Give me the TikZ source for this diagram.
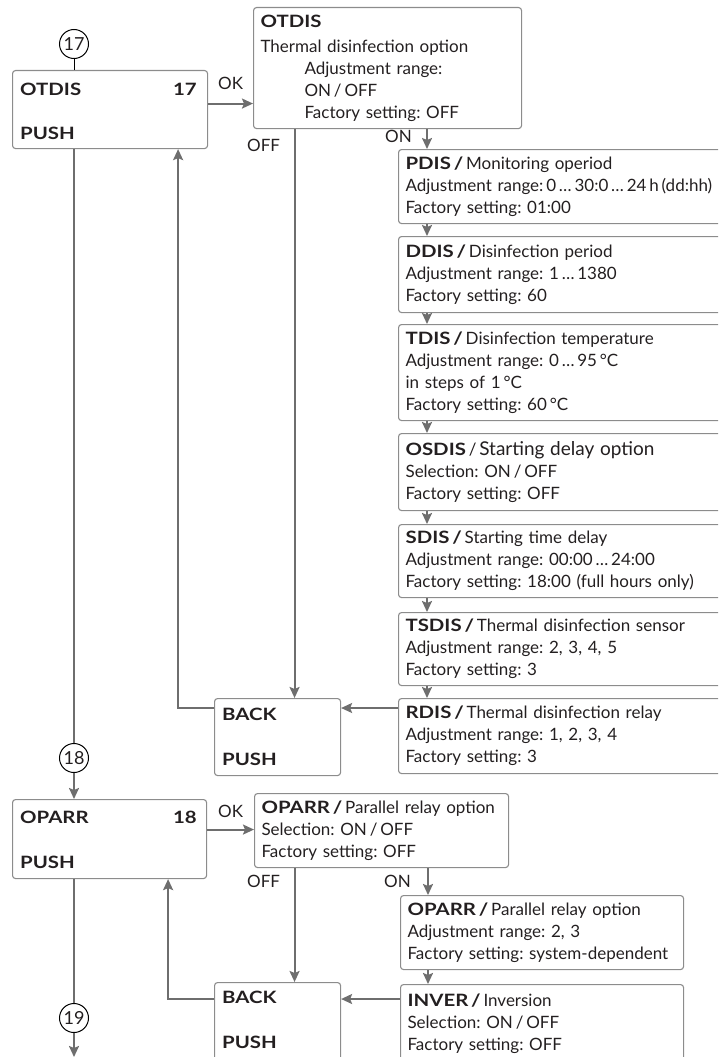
\documentclass[tikz,border=0pt]{standalone}
\usepackage{fontspec}
\setmainfont{Lato}[BoldFeatures={FakeStretch=1.2}]
\usetikzlibrary{arrows.meta,calc}
\definecolor{boxgray}{HTML}{8C8C8C}
\definecolor{linegray}{HTML}{6E6E6E}
\definecolor{txt}{HTML}{231F20}
\newcommand{\sep}{\,/\,}
\frenchspacing
\begin{document}
\begin{tikzpicture}[x=1pt,y=-1pt,
  box/.style={draw=boxgray, line width=1.1pt, rounded corners=3pt, inner sep=0pt, anchor=north west},
  info/.style={box, text width=#1, align=left, inner xsep=7pt, font=\fontsize{17}{22}\selectfont\frenchspacing, text=txt},
  conn/.style={draw=linegray, line width=2pt, -{Stealth[length=11pt,width=10pt,inset=2pt]}},
  plainline/.style={draw=linegray, line width=2pt},
  num/.style={circle, draw=black, line width=1pt, inner sep=0pt, minimum size=29pt, font=\fontsize{18}{18}\selectfont, text=txt},
  lbl/.style={font=\fontsize{17}{17}\selectfont, anchor=base west, inner sep=0pt, text=txt},
  key/.style={font=\bfseries\fontsize{17}{17}\selectfont, anchor=base west, inner sep=0pt, text=txt},
]
\useasboundingbox (0,0) rectangle (718,1057);
\clip (0,0) rectangle (718,1057);

% ---------- section 17 ----------
\node[num] (c17) at (74,44) {17};
\node[box, minimum width=195pt, minimum height=78pt] (b17) at (12,70) {};
\node[key] (b17t) at (20,95) {OTDIS};
\node[key, anchor=base east] (b17n) at (197,95) {17};
\node[key] (b17p) at (20,139) {PUSH};

\node[info=254pt, minimum height=121pt] (m17) at (253,7)
  {\textbf{OTDIS}\\[3pt]
   Thermal disinfection option\\
   \hspace*{44pt}Adjustment range:\\
   \hspace*{44pt}ON\sep OFF\\
   \hspace*{44pt}Factory setting: OFF};

\node[info=330pt, minimum height=74pt] (pdis) at (398,149)
  {\textbf{PDIS\sep}Monitoring operiod\\
   Adjustment range:\,0\,…\,30:0\,…\,24\,h\,(dd:hh)\\
   Factory setting: 01:00};
\node[info=330pt, minimum height=76pt] (ddis) at (398,236)
  {\textbf{DDIS\sep}Disinfection period\\
   Adjustment range: 1\,…\,1380\\
   Factory setting: 60};
\node[info=330pt, minimum height=96pt] (tdis) at (398,324)
  {\textbf{TDIS\sep}Disinfection temperature\\
   Adjustment range: 0\,…\,95\,°C\\
   in steps of 1\,°C\\
   Factory setting: 60\,°C};
\node[info=330pt, minimum height=77pt] (osdis) at (398,433)
  {\textbf{OSDIS}\sep{\fontsize{19}{22}\selectfont Starting delay option}\\
   Selection: ON\sep OFF\\
   Factory setting: OFF};
\node[info=330pt, minimum height=73pt] (sdis) at (398,524)
  {\textbf{SDIS\sep}Starting time delay\\
   Adjustment range: 00:00\,…\,24:00\\
   Factory setting: 18:00 (full hours only)};
\node[info=330pt, minimum height=73pt] (tsdis) at (398,612)
  {\textbf{TSDIS\sep}Thermal disinfection sensor\\
   Adjustment range: 2, 3, 4, 5\\
   Factory setting: 3};
\node[info=330pt, minimum height=75pt] (rdis) at (398,698)
  {\textbf{RDIS\sep}Thermal disinfection relay\\
   Adjustment range: 1, 2, 3, 4\\
   Factory setting: 3};

\node[box, minimum width=126pt, minimum height=77pt] (back1) at (214,698) {};
\node[key] (back1t) at (222,720) {BACK};
\node[key] (back1p) at (222,765) {PUSH};

\node[lbl] (ok1) at (218,89) {OK};
\node[lbl] (off1) at (247,151) {OFF};
\node[lbl] (on1) at (385,142) {ON};

\draw[black, line width=1pt] (c17.south) -- (c17.south |- b17.north);
\draw[conn] ([yshift=6pt]b17.east) -- ([yshift=6pt]b17.east -| m17.west);
\draw[conn] ([xshift=17pt]back1.north |- m17.south) -- ([xshift=17pt]back1.north);
\draw[conn] ([xshift=29pt]pdis.north west |- m17.south) -- ([xshift=29pt]pdis.north west);
\draw[conn] ([xshift=29pt]pdis.south west) -- ([xshift=29pt]ddis.north west);
\draw[conn] ([xshift=29pt]ddis.south west) -- ([xshift=29pt]tdis.north west);
\draw[conn] ([xshift=29pt]tdis.south west) -- ([xshift=29pt]osdis.north west);
\draw[conn] ([xshift=29pt]osdis.south west) -- ([xshift=29pt]sdis.north west);
\draw[conn] ([xshift=29pt]sdis.south west) -- ([xshift=29pt]tsdis.north west);
\draw[conn] ([xshift=29pt]tsdis.south west) -- ([xshift=29pt]rdis.north west);
\draw[conn] ([yshift=-10pt]rdis.north west) -- ([yshift=-10pt]rdis.north west -| back1.east);
\draw[conn] ([yshift=-10pt]back1.north west) -| ([xshift=-30pt]b17.south east);

% ---------- section 18 ----------
\node[num] (c18) at (74,758) {18};
\node[box, minimum width=194pt, minimum height=79pt] (b18) at (12,799) {};
\node[key] (b18t) at (20,823) {OPARR};
\node[key, anchor=base east] (b18n) at (197,823) {18};
\node[key] (b18p) at (20,868) {PUSH};

\node[info=240pt, minimum height=74pt] (m18) at (254,793)
  {\textbf{OPARR\sep}Parallel relay option\\
   Selection: ON\sep OFF\\
   Factory setting: OFF};
\node[info=269pt, minimum height=74pt] (oparr2) at (400,895)
  {\textbf{OPARR\sep}Parallel relay option\\
   Adjustment range: 2, 3\\
   Factory setting: system-dependent};
\node[info=269pt, minimum height=78pt] (inver) at (400,984)
  {\textbf{INVER\sep}Inversion\\
   Selection: ON\sep OFF\\
   Factory setting: OFF};
\node[box, minimum width=126pt, minimum height=100pt] (back2) at (214,982) {};
\node[key] (back2t) at (222,1003) {BACK};
\node[key] (back2p) at (222,1048) {PUSH};

\node[lbl] (ok2) at (218,817) {OK};
\node[lbl] (off2) at (247,887) {OFF};
\node[lbl] (on2) at (384,887) {ON};

\node[num] (c19) at (74,1018) {19};
\coordinate (end19) at (74,1057);

\draw[plainline] (b17.south -| c17) -- (c18.north);
\draw[conn] (c18.south) -- (c18.south |- b18.north);
\draw[conn] ([yshift=9.5pt]b18.east) -- ([yshift=9.5pt]b18.east -| m18.west);
\draw[conn] ([xshift=17pt]back2.north |- m18.south) -- ([xshift=17pt]back2.north);
\draw[conn] ([xshift=28pt]oparr2.north west |- m18.south) -- ([xshift=28pt]oparr2.north west);
\draw[conn] ([xshift=28pt]oparr2.south west) -- ([xshift=28pt]inver.north west);
\draw[conn] ([yshift=-15pt]inver.north west) -- ([yshift=-15pt]inver.north west -| back2.east);
\draw[conn] ([yshift=-17pt]back2.north west) -| ([xshift=-39pt]b18.south east);
\draw[plainline] (b18.south -| c19) -- (c19.north);
\draw[conn] (c19.south) -- (end19);
\end{tikzpicture}
\end{document}
